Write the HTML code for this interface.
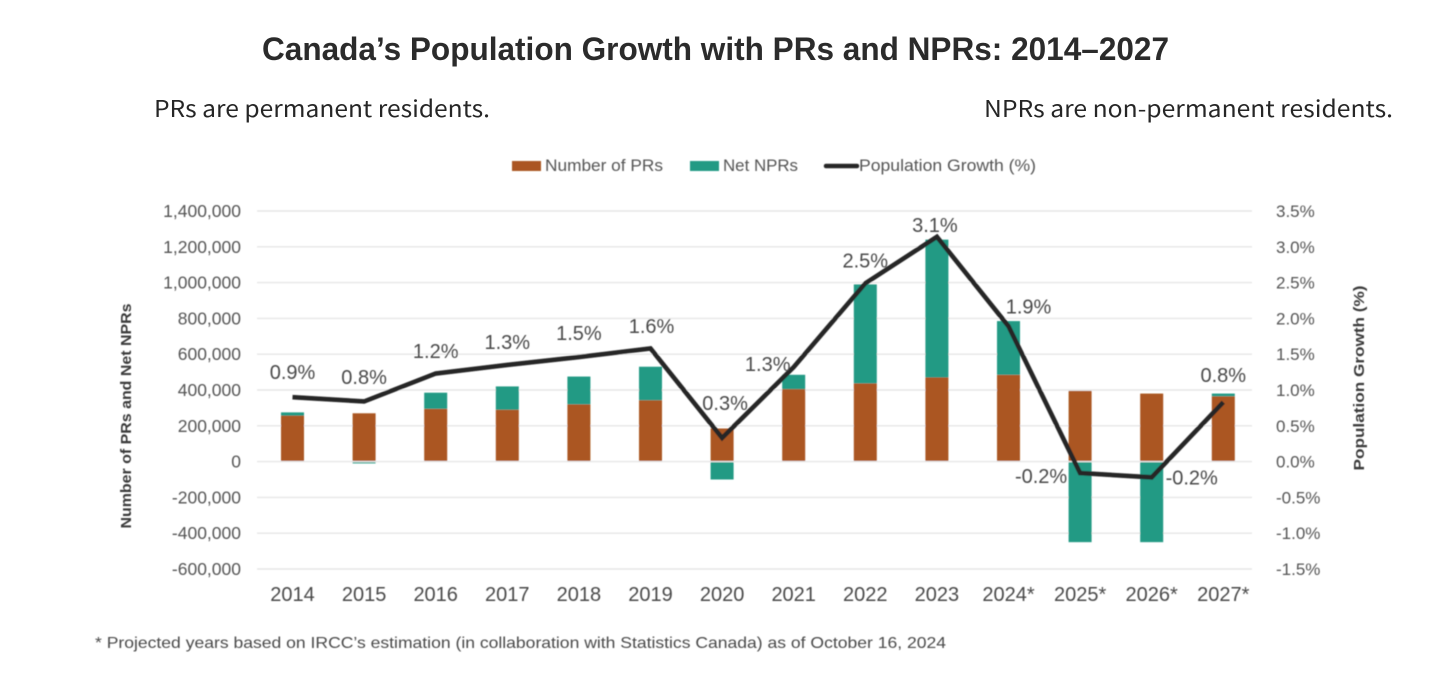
<!DOCTYPE html>
<html>
<head>
<meta charset="utf-8">
<style>
html,body{margin:0;padding:0;background:#fff;width:1456px;height:683px;overflow:hidden}
svg{display:block}
text{font-family:"Liberation Sans",sans-serif}
</style>
</head>
<body>
<svg id="chart" xmlns="http://www.w3.org/2000/svg" width="1456" height="683" viewBox="0 0 1456 683">
<defs><filter id="soft" x="-2%" y="-2%" width="104%" height="104%"><feGaussianBlur stdDeviation="0.55"/></filter></defs>
<text x="262" y="60" font-size="32" font-weight="700" fill="#2b2b2b" textLength="907" lengthAdjust="spacingAndGlyphs">Canada’s Population Growth with PRs and NPRs: 2014–2027</text>
<text x="154" y="117" font-size="23" fill="#262626" textLength="336" lengthAdjust="spacingAndGlyphs" style="font-family:'Noto Sans CJK JP',sans-serif">PRs are permanent residents.</text>
<text x="984" y="117" font-size="23" fill="#262626" textLength="409" lengthAdjust="spacingAndGlyphs" style="font-family:'Noto Sans CJK JP',sans-serif">NPRs are non-permanent residents.</text>
<g id="plot" filter="url(#soft)">
<g>
<rect x="512" y="161" width="29" height="10" fill="#ab5720"/>
<text x="545" y="171" font-size="16.5" fill="#555" textLength="118" lengthAdjust="spacingAndGlyphs">Number of PRs</text>
<rect x="690" y="161" width="29" height="10" fill="#219a84"/>
<text x="723" y="171" font-size="16.5" fill="#555" textLength="75" lengthAdjust="spacingAndGlyphs">Net NPRs</text>
<line x1="826" y1="166" x2="857" y2="166" stroke="#262626" stroke-width="4.5" stroke-linecap="round"/>
<text x="859" y="171" font-size="16.5" fill="#555" textLength="177" lengthAdjust="spacingAndGlyphs">Population Growth (%)</text>
</g>
<text transform="translate(131,416) rotate(-90)" text-anchor="middle" font-size="15" font-weight="700" fill="#3a3a3a" textLength="225" lengthAdjust="spacingAndGlyphs">Number of PRs and Net NPRs</text>
<text transform="translate(1364,378) rotate(-90)" text-anchor="middle" font-size="15" font-weight="700" fill="#3a3a3a" textLength="185" lengthAdjust="spacingAndGlyphs">Population Growth (%)</text>
<text x="95" y="648" font-size="16" fill="#4a4a4a" textLength="851" lengthAdjust="spacingAndGlyphs">* Projected years based on IRCC’s estimation (in collaboration with Statistics Canada) as of October 16, 2024</text>
</g>
</svg>
<script>
const categories = ['2014','2015','2016','2017','2018','2019','2020','2021','2022','2023','2024*','2025*','2026*','2027*'];
const prValues = [257000,270000,295000,290000,320000,343000,185000,405000,437000,470000,485000,395000,380000,365000];
const nprValues = [18000,-10000,90000,130000,155000,187000,-100000,80000,553000,770000,300000,-450000,-450000,15000];
const growthValues = [0.90,0.84,1.23,1.35,1.46,1.58,0.33,1.32,2.49,3.14,1.89,-0.16,-0.22,0.83];
const growthLabels = ['0.9%','0.8%','1.2%','1.3%','1.5%','1.6%','0.3%','1.3%','2.5%','3.1%','1.9%','-0.2%','-0.2%','0.8%'];
const leftTicks = [1400000,1200000,1000000,800000,600000,400000,200000,0,-200000,-400000,-600000];
const rightTicks = ['3.5%','3.0%','2.5%','2.0%','1.5%','1.0%','0.5%','0.0%','-0.5%','-1.0%','-1.5%'];
const rightTickValues = [3.5,3,2.5,2,1.5,1,0.5,0,-0.5,-1,-1.5];
const labelOffsetX = [0,0,0,0,0,1,3,-26,0,-2,20,-39,40,0];
const labelOffsetY = [-18,-17.5,-15.5,-16,-17,-15.5,-28,4,-16,-5,-13,10,7,-20];

const NS = 'http://www.w3.org/2000/svg';
const plot = document.getElementById('plot');
const X0 = 292.5, XSTEP = 71.6, TOP = 211, BOTTOM = 569, BAR = 23;
const xAt = i => X0 + XSTEP * i;
const yLeft = v => TOP + (1400000 - v) / 2000000 * (BOTTOM - TOP);
const yRight = v => TOP + (3.5 - v) / 5 * (BOTTOM - TOP);

function make(tag, attrs, parent) {
  const el = document.createElementNS(NS, tag);
  for (const k in attrs) el.setAttribute(k, attrs[k]);
  parent.appendChild(el);
  return el;
}
function rectBetween(x, a, b, fill, parent) {
  return make('rect', {x: x - BAR / 2, y: Math.min(a, b), width: BAR, height: Math.abs(b - a), fill: fill}, parent);
}

leftTicks.forEach((v, i) => {
  const y = yLeft(v);
  const g = make('line', {x1: 257, x2: 1252, y1: y, y2: y, stroke: '#e6e6e6', 'stroke-width': 1.4}, plot);
  
  
  const t = make('text', {x: 241, y: y + 6, 'text-anchor': 'end', 'font-size': 17.5, fill: '#555'}, plot);
  t.textContent = v.toLocaleString('en-US');
  
  
});
rightTicks.forEach((s, i) => {
  const t = make('text', {x: 1276, y: yRight(rightTickValues[i]) + 6, 'font-size': 17, fill: '#555'}, plot);
  t.textContent = s;
  
  
});
categories.forEach((c, i) => {
  const x = xAt(i);
  const pr = rectBetween(x, yLeft(0) - 0.7, yLeft(prValues[i]), '#ab5720', plot);
  
  
  const n = nprValues[i];
  const a = n >= 0 ? yLeft(prValues[i]) : yLeft(0) + 0.7;
  const b = n >= 0 ? yLeft(prValues[i] + n) : yLeft(n);
  const np = rectBetween(x, a, b, '#219a84', plot);
  
  
  const t = make('text', {x: x, y: 601, 'text-anchor': 'middle', 'font-size': 20, fill: '#4a4a4a'}, plot);
  t.textContent = c;
  
  
});
const line = make('polyline', {
  points: growthValues.map((v, i) => xAt(i) + ',' + yRight(v)).join(' '),
  fill: 'none', stroke: '#262626', 'stroke-width': 4.6, 'stroke-linejoin': 'miter'
}, plot);


growthValues.forEach((v, i) => {
  const t = make('text', {
    x: xAt(i) + labelOffsetX[i], y: yRight(v) + labelOffsetY[i],
    'text-anchor': 'middle', 'font-size': 20, fill: '#4a4a4a'
  }, plot);
  t.textContent = growthLabels[i];
  
  
});
</script>
</body>
</html>
